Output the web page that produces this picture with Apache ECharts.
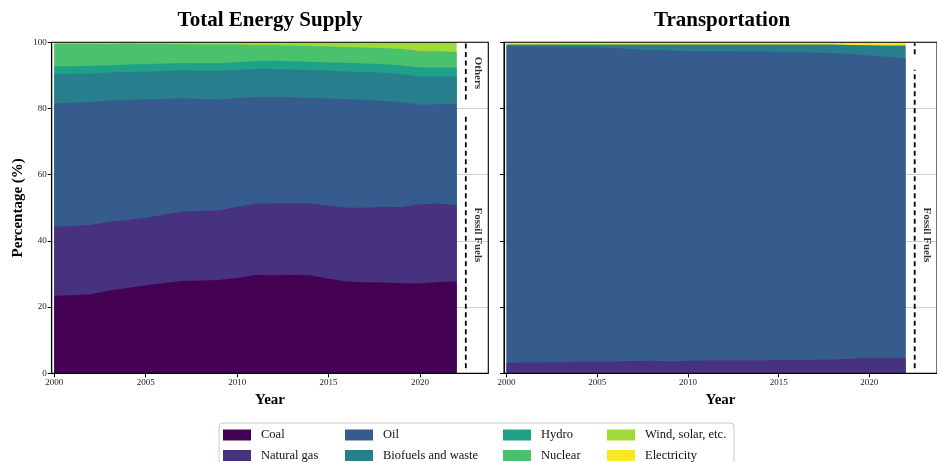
<!DOCTYPE html>
<html>
<head>
<meta charset="utf-8">
<script src="https://cdn.jsdelivr.net/npm/echarts@6/dist/echarts.min.js"></script>
<style>
html,body{margin:0;padding:0;background:#fff;}
#chart{width:937px;height:462px;}
</style>
</head>
<body>
<div id="chart"></div>
<script>
// ---------- DATA ----------
const years = [2000,2001,2002,2003,2004,2005,2006,2007,2008,2009,2010,2011,2012,2013,2014,2015,2016,2017,2018,2019,2020,2021,2022];
const seriesNames = ['Coal','Natural gas','Oil','Biofuels and waste','Hydro','Nuclear','Wind, solar, etc.','Electricity'];
const panelTitles = ['Total Energy Supply','Transportation'];
const xTickValues = [2000,2005,2010,2015,2020];

// Total Energy Supply shares (%)
const tesCoal    = [23.4,23.6,23.9,25.0,25.8,26.5,27.3,27.9,28.0,28.2,28.8,29.7,29.6,29.7,29.6,28.6,27.7,27.5,27.4,27.2,27.1,27.6,27.8];
const tesGas     = [20.9,20.9,20.9,20.8,20.5,20.5,20.7,20.9,21.1,21.0,21.5,21.5,21.7,21.7,21.7,22.0,22.3,22.5,22.9,23.0,24.0,23.7,23.0];
const tesOil     = [37.2,37.2,37.1,36.6,36.3,35.8,34.9,34.3,33.8,33.5,32.8,32.3,32.2,32.0,31.9,32.4,32.8,32.6,32.0,31.8,30.0,30.0,30.7];
const tesBio     = [8.9,8.8,8.7,8.5,8.4,8.3,8.4,8.4,8.5,8.6,8.5,8.4,8.4,8.4,8.4,8.4,8.4,8.4,8.5,8.4,8.5,8.4,8.2];
const tesHydro   = [2.4,2.3,2.3,2.2,2.3,2.3,2.3,2.2,2.3,2.4,2.4,2.4,2.5,2.5,2.5,2.5,2.6,2.6,2.6,2.6,2.8,2.7,2.7];
const tesNuclear = [6.7,6.7,6.6,6.3,6.3,6.1,5.9,5.7,5.6,5.6,5.3,4.9,4.7,4.7,4.8,4.8,4.8,4.8,4.9,5.0,5.0,4.9,4.7];
const tesWind    = [0.5,0.5,0.5,0.6,0.5,0.5,0.5,0.6,0.7,0.7,0.7,0.8,0.9,1.0,1.1,1.3,1.4,1.6,1.7,2.0,2.6,2.7,2.9];

// Transportation shares (%)
const trGas  = [3.2,3.3,3.3,3.4,3.5,3.5,3.6,3.7,3.8,3.6,3.8,3.9,3.9,3.9,3.9,4.0,4.0,4.1,4.2,4.4,4.7,4.7,4.6];
const trOil  = [95.6,95.5,95.4,95.2,95.1,95.0,94.7,94.3,93.9,93.9,93.6,93.4,93.4,93.3,93.3,93.1,93.0,92.8,92.5,92.1,91.2,90.9,90.6];
const trBio  = [0.5,0.5,0.6,0.7,0.7,0.8,1.0,1.3,1.6,1.8,1.9,2.0,2.0,2.1,2.1,2.2,2.3,2.4,2.6,2.7,3.2,3.4,3.8];
const trElec = [0.7,0.7,0.7,0.7,0.7,0.7,0.7,0.7,0.7,0.7,0.7,0.7,0.7,0.7,0.7,0.7,0.7,0.7,0.7,0.8,0.9,1.0,1.0];

// Annotation label ("Fossil Fuels") vertical position in %
const fossilLabelPct = [41.8, 41.8];

// ---------- STYLE ----------
const FONT = '"Liberation Serif", "DejaVu Serif", serif';
const colors = ['#440154','#46327e','#365c8d','#277f8e','#1fa187','#4ac16d','#a0da39','#fde725'];
const colorOf = name => colors[seriesNames.indexOf(name)];
const GRID_TOP = 42.3, GRID_H = 331, GRID_W = 436.6;
const gridLefts = [51.7, 504];
const X_MIN = 1999.86, X_MAX = 2023.73;

const panels = [
  { data: [['Coal',tesCoal],['Natural gas',tesGas],['Oil',tesOil],['Biofuels and waste',tesBio],['Hydro',tesHydro],['Nuclear',tesNuclear],['Wind, solar, etc.',tesWind]], nFossil: 3, showOthersLabel: true },
  { data: [['Natural gas',trGas],['Oil',trOil],['Biofuels and waste',trBio],['Electricity',trElec]], nFossil: 2, showOthersLabel: false }
];

const series = [];
panels.forEach((p, gi) => {
  // cumulative (stacked) tops, built from the share arrays
  const cum = [];
  let running = years.map(() => 0);
  p.data.forEach(([name, vals]) => {
    running = running.map((r, i) => r + vals[i]);
    cum.push([name, running.slice()]);
  });
  // draw topmost layer first so lower layers paint over it
  cum.slice().reverse().forEach(([name, tops]) => {
    series.push({
      type: 'line', name, xAxisIndex: gi, yAxisIndex: gi,
      data: years.map((y, i) => [y, tops[i]]),
      symbol: 'none', showSymbol: false, silent: true, animation: false,
      lineStyle: { width: 0, color: colorOf(name) },
      itemStyle: { color: colorOf(name) },
      areaStyle: { color: colorOf(name), opacity: 1, origin: 'start' },
      z: 2
    });
  });
  // annotations derived from the data of the last year
  const last = years.length - 1;
  const lastYear = years[last];
  const fossilTop = cum[p.nFossil - 1][1][last];
  const xLine = lastYear + 0.5, xText = lastYear + 1.15;
  const dash = { color: '#000', width: 1.8, type: [5, 3.5] };
  series.push({ type: 'line', name: '_fossilLine' + gi, xAxisIndex: gi, yAxisIndex: gi,
    data: [[xLine, 1.5], [xLine, fossilTop - 3.5]], symbol: 'none', silent: true, animation: false,
    lineStyle: dash, z: 5 });
  series.push({ type: 'line', name: '_othersLine' + gi, xAxisIndex: gi, yAxisIndex: gi,
    data: [[xLine, fossilTop + 1.2], [xLine, 99.7]], symbol: 'none', silent: true, animation: false,
    lineStyle: dash, z: 5 });
  const labels = [[xText, fossilLabelPct[gi], 'Fossil Fuels']];
  if (p.showOthersLabel) labels.push([xText, (fossilTop + 100) / 2, 'Others']);
  series.push({ type: 'scatter', name: '_labels' + gi, xAxisIndex: gi, yAxisIndex: gi,
    data: labels.map(l => ({ value: [l[0], l[1]], label: { formatter: l[2] } })),
    symbolSize: 1, itemStyle: { color: 'rgba(0,0,0,0)' }, silent: true, animation: false,
    label: { show: true, position: 'inside', rotate: -90, fontFamily: FONT, fontSize: 11,
      fontWeight: 'bold', color: '#000' }, z: 6 });
});

const grids = gridLefts.map(l => ({
  left: l, top: GRID_TOP, width: GRID_W, height: GRID_H,
  show: true, borderColor: '#000', borderWidth: 1.1, backgroundColor: 'transparent', z: 10
}));

const xAxes = gridLefts.map((_, gi) => ({
  type: 'value', gridIndex: gi, min: X_MIN, max: X_MAX,
  axisLine: { show: true, onZero: false, lineStyle: { color: '#000', width: 1.1 } },
  axisTick: { show: true, customValues: xTickValues, length: 4, lineStyle: { color: '#000' } },
  axisLabel: { customValues: xTickValues, fontFamily: FONT, fontSize: 9, color: '#222', margin: 5,
    formatter: v => String(v) },
  splitLine: { show: false },
  name: 'Year', nameLocation: 'middle', nameGap: 18,
  nameTextStyle: { fontFamily: FONT, fontSize: 15, fontWeight: 'bold', color: '#000' }
}));

const yAxes = gridLefts.map((_, gi) => ({
  type: 'value', gridIndex: gi, min: 0, max: 100, interval: 20,
  axisLine: { show: true, onZero: false, lineStyle: { color: '#000', width: 1.1 } },
  axisTick: { show: true, length: 4, lineStyle: { color: '#000' } },
  axisLabel: { show: gi === 0, fontFamily: FONT, fontSize: 9, color: '#222', margin: 5,
    formatter: v => String(v) },
  splitLine: { show: true, lineStyle: { color: '#cfcfcf', width: 1 } },
  name: gi === 0 ? 'Percentage (%)' : '', nameLocation: 'middle', nameGap: 26,
  nameTextStyle: { fontFamily: FONT, fontSize: 15, fontWeight: 'bold', color: '#000' }
}));

const legendCols = [[0,1],[2,3],[4,5],[6,7]];
const legendLefts = [223, 345, 503, 607];
const legends = legendCols.map((idx, c) => ({
  data: idx.map(i => seriesNames[i]),
  orient: 'vertical', left: legendLefts[c], top: 428.5, height: 80, width: 140, padding: 0,
  itemWidth: 28, itemHeight: 11, itemGap: 7.5, icon: 'rect', selectedMode: false,
  textStyle: { fontFamily: FONT, fontSize: 12.5, color: '#111', padding: [0, 0, 0, 5], lineHeight: 11 }
}));

const chart = echarts.init(document.getElementById('chart'), null, { renderer: 'canvas' });
chart.setOption({
  animation: false,
  backgroundColor: '#fff',
  grid: grids,
  xAxis: xAxes,
  yAxis: yAxes,
  legend: legends,
  series,
  graphic: [
    { type: 'text', x: 270, y: 21, silent: true,
      style: { text: panelTitles[0], align: 'center', verticalAlign: 'middle', fontFamily: FONT, fontSize: 21, fontWeight: 'bold', fill: '#000' } },
    { type: 'text', x: 722, y: 21, silent: true,
      style: { text: panelTitles[1], align: 'center', verticalAlign: 'middle', fontFamily: FONT, fontSize: 21, fontWeight: 'bold', fill: '#000' } },
    { type: 'rect', x: 219, y: 423, silent: true, z: -1,
      shape: { width: 515, height: 50, r: 4 }, style: { fill: 'none', stroke: '#cccccc', lineWidth: 1 } }
  ]
});
</script>
</body>
</html>
